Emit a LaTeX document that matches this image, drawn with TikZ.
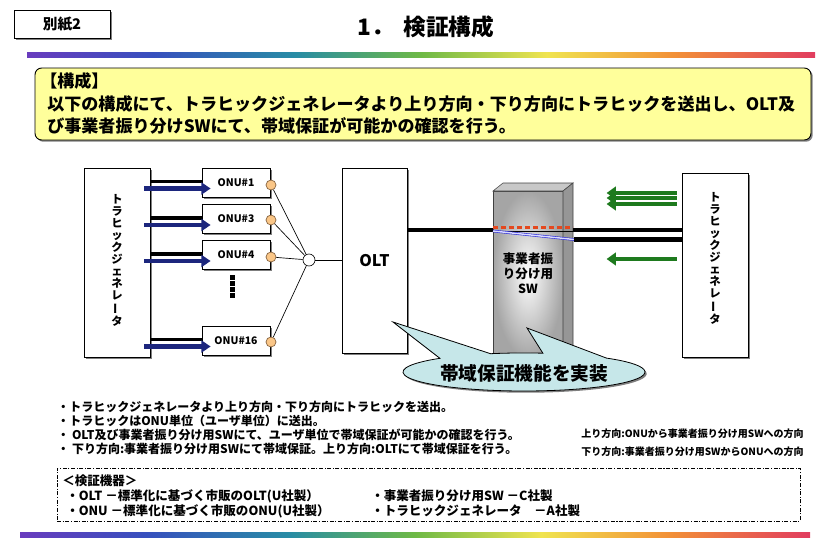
\documentclass[tikz,border=0pt]{standalone}
\usepackage{fontspec}
\setmainfont{Noto Sans CJK JP}
\usepackage{graphicx}
\usetikzlibrary{arrows.meta,shadows,calc}
\definecolor{navyA}{RGB}{28,38,125}
\definecolor{greenA}{RGB}{30,122,30}
\definecolor{yellowA}{RGB}{255,255,155}
\definecolor{cyanA}{RGB}{198,231,233}
\definecolor{orangeA}{RGB}{250,198,135}
\definecolor{orangeD}{RGB}{130,95,60}
\definecolor{redA}{RGB}{228,72,30}
\definecolor{blueA}{RGB}{45,45,215}
\definecolor{swFront}{RGB}{165,165,165}
\definecolor{swTop}{RGB}{200,200,200}
\definecolor{swSide}{RGB}{150,150,150}
\definecolor{rbA}{RGB}{105,60,190}
\definecolor{rbB}{RGB}{55,80,190}
\definecolor{rbC}{RGB}{40,140,165}
\definecolor{rbD}{RGB}{110,185,70}
\definecolor{rbE}{RGB}{240,228,80}
\definecolor{rbF}{RGB}{242,145,55}
\definecolor{rbG}{RGB}{225,60,95}
\pgfdeclarehorizontalshading{rainbowbar}{100bp}{color(0bp)=(rbA); color(25bp)=(rbA); color(33bp)=(rbB); color(42bp)=(rbC); color(50bp)=(rbD); color(58bp)=(rbE); color(66bp)=(rbF); color(75bp)=(rbG); color(100bp)=(rbG)}
\newcommand{\vlong}{\rotatebox[origin=c]{90}{ー}}
\begin{document}
\begin{tikzpicture}[x=0.75pt,y=-0.75pt,
  shadowed/.style={drop shadow={shadow xshift=1.3pt,shadow yshift=-1.3pt,opacity=0.5,fill=black}},
  box/.style={draw=black,line width=0.6pt,fill=white,shadowed,inner sep=0pt},
  txt/.style={inner sep=0pt,anchor=west,font=\bfseries\fontsize{#1}{#1}\selectfont},
  ctxt/.style={inner sep=0pt,font=\bfseries\fontsize{#1}{#1}\selectfont},
  vtxt/.style={inner sep=0pt,align=center,font=\bfseries\fontsize{8.5}{9}\selectfont},
  onubox/.style={box,minimum width=51pt,minimum height=21.75pt,font=\bfseries\fontsize{7.8}{8}\selectfont},
  port/.style={circle,draw=orangeD,fill=orangeA,line width=0.5pt,minimum size=7.5pt,inner sep=0pt},
  fib/.style={line width=0.5pt,draw=black},
  blkbar/.style={line width=2.8pt,draw=black},
  bluearr/.style={line width=3.6pt,draw=navyA,-{Triangle[length=7pt,width=9pt]}},
  grnarr/.style={line width=3.6pt,draw=greenA,-{Triangle[length=7pt,width=9.5pt]}},
  mainline/.style={line width=3.4pt,draw=black},
]
\useasboundingbox (0,0) rectangle (826,550);
% header
\node[box,minimum width=72pt,minimum height=21pt,font=\bfseries\fontsize{11}{12}\selectfont] (bessi) at (62,24) {別紙2};
\node[ctxt=17] (title) at (426,27) {1．\hspace{0.4em}検証構成};
\shade[shading=rainbowbar] (27,52) rectangle (815,57);
% yellow box
\node[draw=black,line width=0.7pt,fill=yellowA,rounded corners=5pt,minimum width=582pt,minimum height=54pt,shadowed] (kosei) at (423,104) {};
\node[txt=12.8] (k1) at (40,81) {【構成】};
\node[txt=12.8] (k2) at (47,104) {以下の構成にて、トラヒックジェネレータより上り方向・下り方向にトラヒックを送出し、OLT及};
\node[txt=12.8] (k3) at (47,126) {び事業者振り分けSWにて、帯域保証が可能かの確認を行う。};
% left generator
\node[box,minimum width=49.5pt,minimum height=141.75pt] (genL) at (117,262.5) {};
\node[vtxt] (genLt) at (117,260) {ト\\ラ\\ヒ\\ッ\\ク\\ジ\\ェ\\ネ\\レ\\\vlong\\タ};
% ONUs
\node[onubox] (onu1) at (236,182.5) {ONU\#1};
\node[onubox] (onu3) at (236,219) {ONU\#3};
\node[onubox] (onu4) at (236,255) {ONU\#4};
\node[onubox] (onu16) at (236,340.5) {ONU\#16};
\foreach \yy in {275,281,287,293} \fill (230,\yy) rectangle (234.5,\yy+4.5);
% bars and arrows
\foreach \o in {onu1,onu3,onu4,onu16}{
  \draw[blkbar] ($(genL.east|-\o.west)+(1,-1)$) -- ($(\o.west)+(0,-1)$);
  \draw[bluearr] ($(genL.east|-\o.west)+(-6,6)$) -- ($(\o.west)+(9,6)$);
}
% ports and splitter
\node[port] (p1) at (271,185) {};
\node[port] (p3) at (271,220) {};
\node[port] (p4) at (271,257) {};
\node[port] (p16) at (271,342) {};
\node[circle,draw,fill=white,line width=0.5pt,minimum size=9pt,inner sep=0pt] (spl) at (309,260) {};
\foreach \p in {p1,p3,p4,p16} \draw[fib] (\p) -- (spl);
% OLT
\node[box,minimum width=48.75pt,minimum height=138.75pt,font=\bfseries\fontsize{12}{12}\selectfont] (olt) at (374.5,260.5) {OLT};
\draw[fib] (spl) -- (olt.west|-spl);
% right generator
\node[box,minimum width=49.5pt,minimum height=138pt] (genR) at (715,265) {};
\node[vtxt] (genRt) at (715,258) {ト\\ラ\\ヒ\\ッ\\ク\\ジ\\ェ\\ネ\\レ\\\vlong\\タ};
% SW (3D box)
\shade[inner color=white,outer color=swFront,draw=gray!50!black,line width=0.4pt] (493,191) rectangle (563,358);
\filldraw[fill=swTop,draw=gray!50!black,line width=0.4pt] (493,191) -- (503,183) -- (573,183) -- (563,191) -- cycle;
\filldraw[fill=swSide,draw=gray!50!black,line width=0.4pt] (563,191) -- (573,183) -- (573,352) -- (563,358) -- cycle;
\node[inner sep=0pt,align=center,font=\bfseries\fontsize{9.4}{11.25}\selectfont] (swt) at (528,273) {事業者振\\り分け用\\SW};
\coordinate (swL) at (493,230);
\coordinate (swR) at (573,230);
\coordinate (swRb) at (574,239.5);
\draw[mainline] (olt.east|-swL) -- (swL);
\draw[line width=0.6pt] ($(swL)+(0,1)$) -- ($(swR)+(0,1)$);
\draw[redA,line width=1.6pt,dash pattern=on 4pt off 2pt] ($(swL)+(0,-2.5)$) -- ($(swR)+(0,-2.5)$);
\draw[blueA,line width=0.45pt,double=blue!15,double distance=1.1pt] ($(swL)+(0,1)$) -- (swRb);
\draw[mainline] (swR) -- (genR.west|-swR);
\draw[mainline] (swRb) -- (genR.west|-swRb);
% green arrows
\foreach \yy in {193,198,204,259}
  \draw[grnarr] ($(genR.west|-0,\yy)+(-5,0)$) -- ++(-70,0);
% callout
\filldraw[fill=cyanA,draw=black,line width=0.6pt,shadowed] (606.5,358.1) arc[start angle=313,end angle=586,x radius=121,y radius=19] -- (393,322) -- (490.6,353.7) arc[start angle=254,end angle=279,x radius=121,y radius=19] -- (527,328) -- cycle;
\node[ctxt=14] (callt) at (524,373) {帯域保証機能を実装};
% notes
\node[txt=9] (n1) at (57,407) {・トラヒックジェネレータより上り方向・下り方向にトラヒックを送出。};
\node[txt=9] (n2) at (57,421) {・トラヒックはONU単位（ユーザ単位）に送出。};
\node[txt=9] (n3) at (57,435) {・ OLT及び事業者振り分け用SWにて、ユーザ単位で帯域保証が可能かの確認を行う。};
\node[txt=9] (n4) at (57,449) {・ 下り方向:事業者振り分け用SWにて帯域保証。上り方向:OLTにて帯域保証を行う。};
\node[txt=7.5] (r1) at (581,434) {上り方向:ONUから事業者振り分け用SWへの方向};
\node[txt=7.5] (r2) at (581,452) {下り方向:事業者振り分け用SWからONUへの方向};
% equipment box
\node[draw=black,line width=0.5pt,dash pattern=on 3pt off 1.2pt on 0.8pt off 1.2pt,minimum width=557.25pt,minimum height=39.75pt,inner sep=0pt] (kiki) at (428.5,494.5) {};
\node[txt=9.4] (b0) at (62,481) {＜検証機器＞};
\node[txt=9.4] (b1) at (66,496) {・OLT －標準化に基づく市販のOLT(U社製）};
\node[txt=9.4] (b2) at (66,511) {・ONU －標準化に基づく市販のONU(U社製）};
\node[txt=9.4] (b3) at (371,496) {・事業者振り分け用SW －C社製};
\node[txt=9.4] (b4) at (371,511) {・トラヒックジェネレータ　－A社製};
\shade[shading=rainbowbar] (20,532) rectangle (810,537);
\end{tikzpicture}
\end{document}
